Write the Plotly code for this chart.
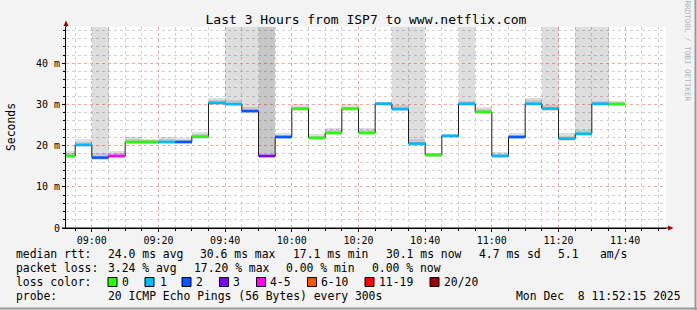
import plotly.graph_objects as go
import pandas as pd

DAY = "2025-12-08"
RANGE_START = "2025-12-08 08:52:15"
RANGE_END = "2025-12-08 11:52:15"

slot_start = ["08:50", "08:55", "09:00", "09:05", "09:10", "09:15", "09:20", "09:25",
              "09:30", "09:35", "09:40", "09:45", "09:50", "09:55", "10:00", "10:05",
              "10:10", "10:15", "10:20", "10:25", "10:30", "10:35", "10:40", "10:45",
              "10:50", "10:55", "11:00", "11:05", "11:10", "11:15", "11:20", "11:25",
              "11:30", "11:35"]
median_ms = [17.5, 20.2, 17.1, 17.5, 20.9, 20.9, 20.9, 20.9, 22.2, 30.4,
             30.1, 28.4, 17.5, 22.1, 29.0, 21.9, 23.1, 29.0, 23.1, 30.2,
             28.9, 20.5, 17.7, 22.4, 30.2, 28.2, 17.5, 22.1, 30.2, 29.0,
             21.7, 22.9, 30.2, 30.1]
loss_bucket = ["0", "1", "2", "4-5", "0", "0", "1", "2", "0", "1",
               "1", "2", "3", "2", "0", "0", "0", "0", "0", "1",
               "1", "1", "0", "1", "1", "0", "1", "2", "1", "1",
               "1", "1", "1", "0"]
smoke_hi = [18.8, 21.5, 60, 18.6, 22.1, 21.5, 22.0, 21.8, 23.2, 31.6,
            60, 60, 60, 23.1, 30.0, 22.8, 24.3, 30.0, 24.3, 30.7,
            60, 60, 18.3, 22.9, 60, 29.5, 18.4, 23.1, 31.6, 60,
            23.0, 60, 60, 30.8]
smoke_lo = [17.0, 19.7, 16.6, 17.0, 20.4, 20.4, 20.4, 20.4, 21.7, 29.9,
            29.6, 27.9, 17.0, 21.6, 28.5, 21.3, 22.6, 28.5, 22.6, 29.7,
            28.4, 20.0, 17.2, 21.8, 29.7, 27.7, 17.0, 21.6, 29.7, 28.5,
            21.2, 22.4, 29.7, 29.6]
core_hi = [18.2, 20.9, 18.2, 18.1, 21.5, 21.3, 21.5, 21.4, 22.8, 31.0,
           31.0, 29.3, 60, 22.7, 29.5, 22.4, 23.7, 29.5, 23.7, 30.5,
           29.8, 21.6, 18.1, 22.7, 30.8, 28.9, 18.0, 22.6, 31.0, 29.8,
           22.4, 23.8, 30.8, 30.5]
core_lo = [17.2, 19.9, 16.8, 17.2, 20.6, 20.6, 20.6, 20.6, 21.9, 30.1,
           29.8, 28.1, 17.2, 21.8, 28.7, 21.6, 22.8, 28.7, 22.8, 29.9,
           28.6, 20.2, 17.4, 22.1, 29.9, 27.9, 17.2, 21.8, 29.9, 28.7,
           21.4, 22.6, 29.9, 29.8]

loss_labels = ["0", "1", "2", "3", "4-5", "6-10", "11-19", "20/20"]
loss_colors = ["#26ff00", "#00b8ff", "#0059ff", "#7e00ff", "#ff00ff", "#ff5500", "#ff0000", "#a10000"]

y_tick_vals = [0, 10, 20, 30, 40]
y_tick_text = ["0", "10 m", "20 m", "30 m", "40 m"]

stats_line1 = [("median rtt:", 16), ("24.0 ms avg", 107.5), ("30.6 ms max", 200), ("17.1 ms min", 293),
               ("30.1 ms now", 386), ("4.7 ms sd", 479), ("5.1", 558), ("am/s", 600)]
stats_line2 = [("packet loss:", 16), ("3.24 % avg", 107.5), ("17.20 % max", 194), ("0.00 % min", 286),
               ("0.00 % now", 372)]
probe_text = "20 ICMP Echo Pings (56 Bytes) every 300s"
date_text = "Mon Dec  8 11:52:15 2025"
title_text = "Last 3 Hours from ISP7 to www.netflix.com"

# ---------------------------------------------------------------
SLOT_MS = 5 * 60 * 1000
xs = pd.to_datetime([DAY + " " + s for s in slot_start])
x_end = xs[-1] + pd.Timedelta(minutes=5)

# plot area in pixels
L, R, T, B = 66, 666, 27, 228


def px(x):
    return (x - L) / (R - L)


def py(y):
    return (B - y) / (B - T)


MONO = "DejaVu Sans Mono"
fig = go.Figure()

# outer smoke
fig.add_trace(go.Bar(x=xs, y=[h - l for h, l in zip(smoke_hi, smoke_lo)], base=smoke_lo,
                     width=SLOT_MS, offset=0, marker=dict(color="rgba(0,0,0,0.13)", line=dict(width=0)),
                     hoverinfo="skip"))
# inner smoke
fig.add_trace(go.Bar(x=xs, y=[h - l for h, l in zip(core_hi, core_lo)], base=core_lo,
                     width=SLOT_MS, offset=0, marker=dict(color="rgba(0,0,0,0.10)", line=dict(width=0)),
                     hoverinfo="skip"))

# black median step line
fig.add_trace(go.Scatter(x=list(xs) + [x_end], y=median_ms + [median_ms[-1]], mode="lines",
                         line=dict(shape="hv", color="#202020", width=1), hoverinfo="skip"))

# coloured median bands by loss
for lab, col in zip(loss_labels, loss_colors):
    bx, by = [], []
    for i, b in enumerate(loss_bucket):
        if b == lab:
            bx += [xs[i], xs[i] + pd.Timedelta(minutes=5), None]
            by += [median_ms[i], median_ms[i], None]
    if bx:
        fig.add_trace(go.Scatter(x=bx, y=by, mode="lines", line=dict(color=col, width=2.6),
                                 hoverinfo="skip"))

annotations = []
TXT = 11.4


def txt(s, x, y, size=TXT, anchor="left", color="#000", angle=0):
    annotations.append(dict(text=s.replace(" ", "\u00a0"), x=px(x), y=py(y), xref="paper", yref="paper",
                            xanchor=anchor, yanchor="middle", showarrow=False, textangle=angle,
                            font=dict(family=MONO, size=size, color=color), borderpad=0, borderwidth=0))


for s, x in stats_line1:
    txt(s, x, 254)
for s, x in stats_line2:
    txt(s, x, 268)
txt("loss color:", 16, 282)
txt("probe:", 16, 296)
txt(probe_text, 107.5, 296)
txt(date_text, 681, 296, anchor="right")
txt("Seconds", 10.5, 127.5, angle=-90, anchor="center")
txt("RRDTOOL / TOBI OETIKER", 687.5, 51, size=7.6, color="#b4b4b4", angle=90, anchor="center")

shapes = []
box_x = [108, 145, 182, 219.5, 256.5, 307.5, 365, 430]
label_x = [122, 160, 196, 233, 270, 321, 379, 444]
for lab, col, bxp, lxp in zip(loss_labels, loss_colors, box_x, label_x):
    shapes.append(dict(type="rect", xref="paper", yref="paper", x0=px(bxp), x1=px(bxp + 9),
                       y0=py(286.5), y1=py(277.5), fillcolor=col, line=dict(color="#000", width=1)))
    txt(lab, lxp, 282)

# axis arrows
arrow_col = "#a00000"
shapes.append(dict(type="path", xref="paper", yref="paper",
                   path=f"M {px(63.5)} {py(26)} L {px(66)} {py(20.5)} L {px(68.5)} {py(26)} Z",
                   fillcolor=arrow_col, line=dict(width=0)))
shapes.append(dict(type="line", xref="paper", yref="paper", x0=px(66), x1=px(66), y0=py(27), y1=py(25),
                   line=dict(color="#000", width=1)))
shapes.append(dict(type="path", xref="paper", yref="paper",
                   path=f"M {px(668)} {py(225.5)} L {px(673.5)} {py(228)} L {px(668)} {py(230.5)} Z",
                   fillcolor=arrow_col, line=dict(width=0)))
shapes.append(dict(type="line", xref="paper", yref="paper", x0=px(62), x1=px(668), y0=py(228), y1=py(228),
                   line=dict(color="#000", width=1)))
# frame
shapes.append(dict(type="line", xref="paper", yref="paper", x0=px(695.5), x1=px(695.5), y0=py(0), y1=py(310),
                   line=dict(color="#9a9a9a", width=2)))
shapes.append(dict(type="line", xref="paper", yref="paper", x0=px(0), x1=px(697), y0=py(308.5), y1=py(308.5),
                   line=dict(color="#9a9a9a", width=2)))

fig.update_layout(
    width=697, height=310,
    margin=dict(l=L, r=697 - R, t=T, b=310 - B, pad=0),
    paper_bgcolor="#f3f3f3", plot_bgcolor="#ffffff",
    showlegend=False, barmode="overlay", bargap=0,
    title=dict(text=title_text, x=0.5, xref="paper", xanchor="center",
               y=1 - 19 / 310, yref="container", yanchor="middle",
               font=dict(family=MONO, size=13, color="#000")),
    annotations=annotations, shapes=shapes,
    xaxis=dict(type="date", range=[RANGE_START, RANGE_END], tickformat="%H:%M",
               tick0=DAY + " 09:00", dtick=20 * 60 * 1000, tickmode="linear",
               showgrid=True, gridcolor="#eeaaaa", griddash="dot", gridwidth=1,
               ticks="outside", ticklen=3, tickcolor="#000",
               minor=dict(dtick=SLOT_MS, tick0=DAY + " 09:00", showgrid=True, gridcolor="#d0d0d0",
                          griddash="dot", ticks="outside", ticklen=2, tickcolor="#000"),
               showline=True, linecolor="#000", linewidth=1, zeroline=False,
               tickfont=dict(family=MONO, size=10, color="#000"), fixedrange=True),
    yaxis=dict(range=[0, (B - T) / 4.118], tickmode="array", tickvals=y_tick_vals, ticktext=y_tick_text,
               showgrid=True, gridcolor="#eeaaaa", griddash="dot", gridwidth=1,
               ticks="outside", ticklen=3, tickcolor="#000",
               minor=dict(tickmode="linear", tick0=0, dtick=2, showgrid=True, gridcolor="#d0d0d0",
                          griddash="dot", ticks="outside", ticklen=2, tickcolor="#000"),
               showline=True, linecolor="#000", linewidth=1, zeroline=False,
               tickfont=dict(family=MONO, size=10, color="#000"), fixedrange=True),
)

fig.write_html("out.html")
